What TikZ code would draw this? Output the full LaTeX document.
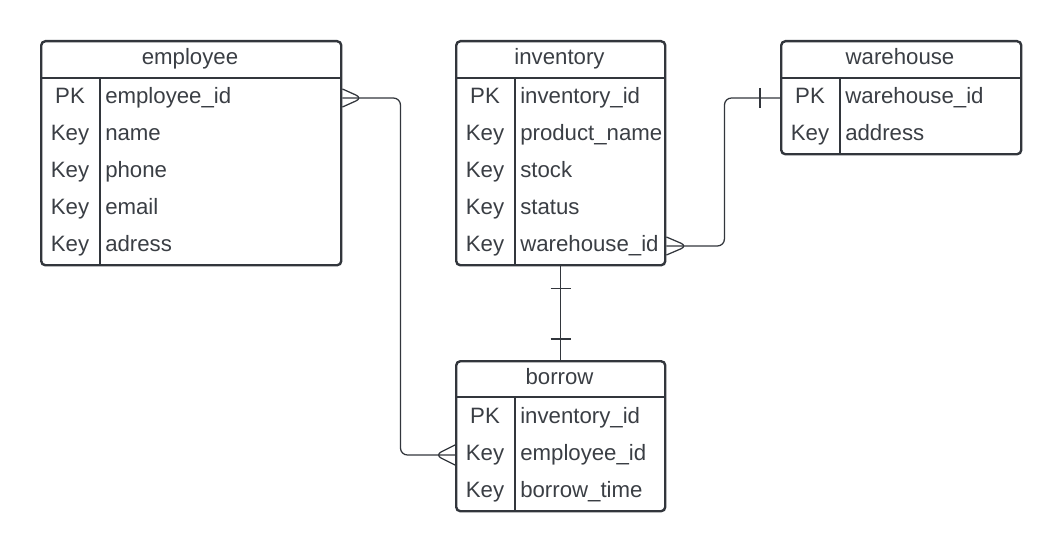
\documentclass[tikz,border=0pt]{standalone}
\usepackage{fontspec}
\setmainfont{Liberation Sans}
\definecolor{linec}{RGB}{50,54,60}
\definecolor{textc}{RGB}{58,62,68}

\begin{document}
\begin{tikzpicture}[x=0.025cm, y=-0.025cm,
    tbl/.style={draw=linec, line width=1.7pt, rounded corners=3pt, inner sep=0pt, anchor=north west},
    sep/.style={draw=linec, line width=1.5pt},
    ttl/.style={text=textc, font=\fontsize{15.8}{18}\selectfont, inner sep=0pt, anchor=base},
    keytxt/.style={ttl, text height=0.72em, text depth=0pt, anchor=center},
    fldtxt/.style={keytxt, anchor=west},
    conn/.style={draw=linec, line width=0.9pt, rounded corners=5pt}]
    \useasboundingbox (0,0) rectangle (1060,551);

    % tables
    \node[tbl, minimum width=7.5cm, minimum height=5.6cm] (emp) at (40,40) {};
    \node[tbl, minimum width=5.225cm, minimum height=5.6cm] (inv) at (455,40) {};
    \node[tbl, minimum width=6cm, minimum height=2.825cm] (wh) at (780,40) {};
    \node[tbl, minimum width=5.225cm, minimum height=3.75cm] (bor) at (455,360) {};

    \node[ttl] (emp-t) at (190,64.5) {employee};
    \node[ttl] (inv-t) at (559.5,64.5) {inventory};
    \node[ttl] (wh-t) at (900,64.5) {warehouse};
    \node[ttl] (bor-t) at (559.5,384) {borrow};

    \draw[sep] (emp.west |- 0,78) -- (emp.east |- 0,78);
    \draw[sep] (inv.west |- 0,78) -- (inv.east |- 0,78);
    \draw[sep] (wh.west |- 0,78) -- (wh.east |- 0,78);
    \draw[sep] (bor.west |- 0,397) -- (bor.east |- 0,397);

    \draw[sep] (100,78) -- (100,264);
    \draw[sep] (515,78) -- (515,264);
    \draw[sep] (840,78) -- (840,153);
    \draw[sep] (515,397) -- (515,510);

    % rows
    \foreach \k/\f [count=\i] in {PK/employee\_id, Key/name, Key/phone, Key/email, Key/adress} {
        \node[keytxt] (emp-k\i) at (70,61+37*\i) {\k};
        \node[fldtxt] (emp-f\i) at (105,61+37*\i) {\f};
    }
    \foreach \k/\f [count=\i] in {PK/inventory\_id, Key/product\_name, Key/stock, Key/status, Key/warehouse\_id} {
        \node[keytxt] (inv-k\i) at (485,61+37*\i) {\k};
        \node[fldtxt] (inv-f\i) at (520,61+37*\i) {\f};
    }
    \foreach \k/\f [count=\i] in {PK/warehouse\_id, Key/address} {
        \node[keytxt] (wh-k\i) at (810,61+37*\i) {\k};
        \node[fldtxt] (wh-f\i) at (845,61+37*\i) {\f};
    }
    \foreach \k/\f [count=\i] in {PK/inventory\_id, Key/employee\_id, Key/borrow\_time} {
        \node[keytxt] (bor-k\i) at (485,381+37*\i) {\k};
        \node[fldtxt] (bor-f\i) at (520,381+37*\i) {\f};
    }

    % relations
    \draw[conn] (emp.east |- emp-f1) -- ++(58,0) |- (bor.west |- bor-f2);
    \draw[conn] (emp.east |- emp-f1) ++(0,-9) -- ++(20,9) -- ++(-20,9);
    \draw[conn] (bor.west |- bor-f2) ++(0,-10) -- ++(-20,10) -- ++(20,10);

    \draw[conn] (inv.east |- inv-f5) -- ++(58,0) |- (wh.west |- wh-f1);
    \draw[conn] (inv.east |- inv-f5) ++(0,-9) -- ++(21,9) -- ++(-21,9);
    \draw[conn] (wh.west |- wh-f1) ++(-20,-10) -- ++(0,20);

    \draw[conn] (inv) -- (bor);
    \draw[conn] (inv.south) ++(-10,22) -- ++(20,0);
    \draw[conn] (bor.north) ++(-10,-21) -- ++(20,0);
\end{tikzpicture}
\end{document}
